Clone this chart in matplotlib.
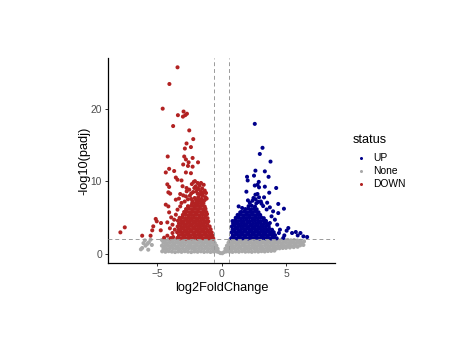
import matplotlib
matplotlib.use("Agg")
import matplotlib.pyplot as plt
from matplotlib.lines import Line2D

plt.rcParams['font.family'] = ['Liberation Sans', 'DejaVu Sans']

# ---------------- data ----------------
status_labels = ["UP", "None", "DOWN"]
status_colors = ["#00008B", "#A9A9A9", "#B22222"]

fc_cut = 0.585          # log2(1.5)
padj_cut = 2.0          # -log10(0.01)
x_ticks = [-5, 0, 5]
y_ticks = [0, 10, 20]

down_pts = [
    (-3.41, 25.7), (-4.04, 23.4), (-4.56, 20.0), (-2.94, 19.6), (-2.68, 19.3), (-3.38, 19.1),
    (-2.99, 18.9), (-2.81, 19.1), (-3.75, 17.6), (-2.5, 17.0), (-2.19, 15.8), (-2.71, 15.2),
    (-2.37, 14.7), (-2.84, 14.5), (-4.17, 13.4), (-2.89, 13.4), (-2.24, 13.2),
    (-2.76, 13.0), (-2.55, 12.6), (-1.82, 12.6), (-2.97, 12.3), (-2.6, 12.1), (-2.24, 12.0),
    (-4.06, 11.7), (-3.67, 11.4), (-4.32, 11.2), (-2.37, 11.1), (-2.76, 11.2), (-3.54, 10.5),
    (-3.41, 10.2), (-3.1, 10.1), (-2.06, 10.0), (-1.85, 9.75), (-1.59, 9.75), (-1.38, 9.5),
    (-4.2, 9.56), (-4.06, 9.2), (-3.02, 9.3), (-2.71, 9.06), (-2.5, 8.83), (-2.11, 9.06),
    (-1.77, 8.92), (-3.98, 8.28), (-4.12, 8.46), (-3.2, 8.23), (-2.97, 8.04), (-2.76, 7.9),
    (-1.85, 8.28), (-1.59, 8.14), (-1.2, 8.37), (-3.54, 7.45), (-2.34, 7.54), (-2.08, 7.68),
    (-4.32, 6.76), (-4.12, 6.52), (-3.2, 6.52), (-4.06, 5.7), (-5.1, 4.79), (-5.02, 4.46),
    (-4.69, 4.23), (-4.2, 4.32), (-5.29, 3.77), (-5.37, 3.22), (-4.71, 3.22), (-7.5, 3.63),
    (-7.84, 2.94), (-6.15, 2.48), (-5.5, 2.48), (-4.2, 2.48), (-3.8, 2.85), (-3.62, 3.31),
    (-3.8, 4.0), (-3.67, 4.69), (-3.54, 5.38), (-3.41, 6.07),
    (-2.3, 9.6), (-2.0, 9.3), (-1.7, 9.4), (-1.5, 9.0), (-1.3, 8.7), (-2.2, 8.5), (-1.95, 8.6),
    (-1.65, 8.2), (-1.45, 8.0), (-2.45, 8.0), (-1.25, 7.8), (-1.8, 7.8), (-2.6, 7.5),
    (-1.55, 7.55), (-2.0, 7.5), (-1.3, 7.4), (-2.85, 7.2), (-3.1, 7.0),
    (-2.15, 9.9), (-1.9, 9.0), (-1.6, 8.6), (-2.35, 8.3), (-1.4, 8.4), (-1.75, 7.4),
    (-2.25, 7.2), (-1.15, 7.6), (-2.7, 8.6), (-3.3, 7.6),
    (-4.45, 2.2), (-3.95, 2.15), (-4.0, 3.5), (-3.9, 5.0), (-3.75, 2.3),
    (-3.42, 2.18), (-3.2, 2.12), (-2.97, 2.22), (-2.76, 2.1), (-2.53, 2.2), (-2.31, 2.14),
    (-2.1, 2.24), (-1.87, 2.11), (-1.65, 2.19), (-1.43, 2.13), (-1.2, 2.23), (-0.98, 2.12),
    (-0.77, 2.2), (-0.64, 2.1),
    (-3.3, 2.55), (-3.08, 2.6), (-2.86, 2.5), (-2.64, 2.58), (-2.42, 2.52), (-2.2, 2.62),
    (-1.98, 2.5), (-1.76, 2.57), (-1.54, 2.53), (-1.32, 2.6), (-1.1, 2.49), (-0.88, 2.56),
    (-0.69, 2.48),
    (-3.44, 2.95), (-3.2, 3.0), (-2.98, 2.9), (-2.75, 2.98), (-2.53, 2.93), (-2.31, 3.02),
    (-2.09, 2.91), (-1.87, 2.99), (-1.65, 2.94), (-1.43, 3.0), (-1.21, 2.9), (-0.99, 2.97),
    (-0.76, 2.92),
    (-3.32, 3.35), (-3.1, 3.4), (-2.87, 3.3), (-2.64, 3.38), (-2.42, 3.32), (-2.2, 3.42),
    (-1.98, 3.31), (-1.76, 3.39), (-1.54, 3.34), (-1.32, 3.4), (-1.1, 3.3), (-0.84, 3.36),
    (-3.4, 3.75), (-3.18, 3.8), (-2.96, 3.7), (-2.74, 3.78), (-2.52, 3.72), (-2.3, 3.82),
    (-2.08, 3.71), (-1.86, 3.79), (-1.64, 3.74), (-1.42, 3.8), (-1.2, 3.7), (-0.92, 3.76),
    (-3.3, 4.15), (-3.08, 4.2), (-2.86, 4.1), (-2.64, 4.18), (-2.42, 4.12), (-2.2, 4.22),
    (-1.98, 4.11), (-1.76, 4.19), (-1.54, 4.14), (-1.32, 4.2), (-1.1, 4.1),
    (-3.38, 4.55), (-3.15, 4.6), (-2.93, 4.5), (-2.7, 4.58), (-2.5, 4.52), (-2.28, 4.62),
    (-2.05, 4.51), (-1.84, 4.59), (-1.62, 4.54), (-1.4, 4.6), (-1.18, 4.5), (-1.02, 4.45),
    (-3.25, 4.95), (-3.02, 5.0), (-2.8, 4.9), (-2.58, 4.98), (-2.36, 4.92), (-2.14, 5.02),
    (-1.92, 4.91), (-1.7, 4.99), (-1.48, 4.94), (-1.26, 5.0), (-1.08, 4.9),
    (-3.0, 5.35), (-2.78, 5.4), (-2.56, 5.3), (-2.34, 5.38), (-2.12, 5.32), (-1.9, 5.42),
    (-1.68, 5.31), (-1.46, 5.39), (-1.25, 5.34), (-1.12, 5.45),
    (-2.9, 5.75), (-2.68, 5.8), (-2.46, 5.7), (-2.24, 5.78), (-2.02, 5.72), (-1.8, 5.82),
    (-1.58, 5.71), (-1.36, 5.79), (-1.18, 5.74),
    (-2.75, 6.15), (-2.52, 6.2), (-2.3, 6.1), (-2.08, 6.18), (-1.86, 6.12), (-1.64, 6.22),
    (-1.42, 6.11), (-1.24, 6.19),
    (-2.6, 6.55), (-2.35, 6.6), (-2.14, 6.5), (-1.92, 6.58), (-1.7, 6.52), (-1.48, 6.62),
    (-1.3, 6.5),
    (-2.28, 6.92), (-2.05, 6.88), (-1.83, 6.95), (-1.6, 6.9), (-1.4, 6.97),
    (-1.95, 7.2), (-1.62, 7.25), (-1.42, 7.18),
]

up_pts = [
    (2.58, 17.9), (3.18, 14.6), (2.97, 13.75), (3.8, 12.7), (2.63, 11.45), (3.36, 11.35),
    (1.98, 10.6), (2.52, 10.76), (3.65, 10.6), (2.03, 10.1), (2.89, 9.9), (2.58, 9.4),
    (2.79, 9.5), (3.36, 9.24), (2.91, 9.15), (4.24, 9.06), (1.93, 8.55), (2.79, 8.23),
    (2.63, 8.14), (3.7, 8.41), (2.48, 7.68), (2.91, 7.77), (3.3, 7.77), (2.05, 7.35),
    (2.84, 7.13), (3.54, 7.03), (4.4, 6.86), (1.33, 6.52), (3.23, 6.57), (3.75, 6.39),
    (4.84, 6.2), (1.8, 5.84), (4.0, 5.84), (4.4, 5.6), (3.88, 5.15), (4.14, 4.69),
    (3.75, 4.23), (4.32, 4.0), (4.53, 3.31), (4.45, 2.85), (4.87, 2.52), (5.05, 3.17),
    (5.18, 3.54), (5.47, 2.85), (5.76, 2.99), (6.12, 2.85), (5.91, 2.52), (6.35, 2.39),
    (6.64, 2.3), (4.79, 2.16),
    (2.4, 7.3), (2.65, 7.5), (3.05, 7.2), (2.2, 7.0), (3.1, 6.9), (2.7, 6.95), (1.6, 6.3),
    (3.5, 6.1), (1.45, 5.7),
    (0.76, 2.15), (0.98, 2.2), (1.2, 2.1), (1.42, 2.18), (1.64, 2.12), (1.86, 2.22),
    (2.08, 2.11), (2.3, 2.19), (2.52, 2.14), (2.74, 2.2), (2.96, 2.1), (3.18, 2.17),
    (3.4, 2.13), (3.62, 2.21), (3.84, 2.1), (4.06, 2.18), (4.28, 2.12),
    (0.87, 2.55), (1.09, 2.6), (1.31, 2.5), (1.53, 2.58), (1.75, 2.52), (1.97, 2.62),
    (2.19, 2.51), (2.41, 2.59), (2.63, 2.54), (2.85, 2.6), (3.07, 2.5), (3.29, 2.57),
    (3.51, 2.53), (3.73, 2.61), (3.95, 2.5), (4.15, 2.56),
    (0.78, 2.95), (1.0, 3.0), (1.22, 2.9), (1.44, 2.98), (1.66, 2.92), (1.88, 3.02),
    (2.1, 2.91), (2.32, 2.99), (2.54, 2.94), (2.76, 3.0), (2.98, 2.9), (3.2, 2.97),
    (3.42, 2.93), (3.64, 3.01), (3.86, 2.9), (4.05, 2.96),
    (0.86, 3.35), (1.08, 3.4), (1.3, 3.3), (1.52, 3.38), (1.74, 3.32), (1.96, 3.42),
    (2.18, 3.31), (2.4, 3.39), (2.62, 3.34), (2.84, 3.4), (3.06, 3.3), (3.28, 3.37),
    (3.5, 3.33), (3.72, 3.41), (3.92, 3.3),
    (0.8, 3.75), (1.02, 3.8), (1.24, 3.7), (1.46, 3.78), (1.68, 3.72), (1.9, 3.82),
    (2.12, 3.71), (2.34, 3.79), (2.56, 3.74), (2.78, 3.8), (3.0, 3.7), (3.22, 3.77),
    (3.44, 3.73), (3.66, 3.8),
    (0.9, 4.15), (1.12, 4.2), (1.34, 4.1), (1.56, 4.18), (1.78, 4.12), (2.0, 4.22),
    (2.22, 4.11), (2.44, 4.19), (2.66, 4.14), (2.88, 4.2), (3.1, 4.1), (3.32, 4.17),
    (3.54, 4.13),
    (0.85, 4.5), (1.06, 4.6), (1.28, 4.5), (1.5, 4.58), (1.72, 4.52), (1.94, 4.62),
    (2.16, 4.51), (2.38, 4.59), (2.6, 4.54), (2.82, 4.6), (3.04, 4.5), (3.26, 4.57),
    (3.45, 4.52),
    (1.1, 4.95), (1.32, 5.0), (1.54, 4.9), (1.76, 4.98), (1.98, 4.92), (2.2, 5.02),
    (2.42, 4.91), (2.64, 4.99), (2.86, 4.94), (3.08, 5.0), (3.28, 4.9),
    (1.25, 5.35), (1.47, 5.4), (1.69, 5.3), (1.91, 5.38), (2.13, 5.32), (2.35, 5.42),
    (2.57, 5.31), (2.79, 5.39), (3.0, 5.34),
    (1.55, 5.75), (1.77, 5.8), (1.99, 5.7), (2.21, 5.78), (2.43, 5.72), (2.65, 5.82),
    (2.87, 5.71),
    (1.85, 6.15), (2.07, 6.2), (2.29, 6.1), (2.51, 6.18), (2.73, 6.12),
    (2.1, 6.55), (2.35, 6.6), (2.6, 6.5),
]

none_pts = [
    (-6.15, 0.78), (-5.89, 1.1), (-5.63, 1.56), (-5.94, 1.84), (-5.5, 1.93), (-5.68, 0.55),
    (-6.25, 0.6), (-5.75, 1.35), (-5.4, 1.2), (-6.05, 1.45),
    (-4.6, 0.32), (-4.35, 0.26), (-4.1, 0.34), (-3.85, 0.28), (-3.6, 0.22), (-3.35, 0.3),
    (-3.1, 0.25), (-2.85, 0.33), (-2.6, 0.27), (-2.35, 0.22), (-2.1, 0.3), (-1.85, 0.26),
    (-1.6, 0.32), (-1.35, 0.24), (-1.1, 0.29), (-0.85, 0.23), (-0.62, 0.3),
    (0.62, 0.28), (0.85, 0.24), (1.1, 0.31), (1.35, 0.26), (1.6, 0.33), (1.85, 0.27),
    (2.1, 0.3), (2.35, 0.25), (2.6, 0.32), (2.85, 0.28), (3.1, 0.34), (3.35, 0.3),
    (3.6, 0.36), (3.85, 0.38), (4.1, 0.42),
    (-4.5, 0.7), (-4.25, 0.66), (-4.0, 0.74), (-3.75, 0.68), (-3.5, 0.72), (-3.25, 0.65),
    (-3.0, 0.71), (-2.75, 0.67), (-2.5, 0.74), (-2.25, 0.69), (-2.0, 0.66), (-1.75, 0.72),
    (-1.5, 0.68), (-1.25, 0.73), (-1.0, 0.66), (-0.75, 0.7), (-0.52, 0.68),
    (0.52, 0.7), (0.76, 0.66), (1.0, 0.73), (1.25, 0.68), (1.5, 0.71), (1.75, 0.65),
    (2.0, 0.72), (2.25, 0.69), (2.5, 0.74), (2.75, 0.67), (3.0, 0.7), (3.25, 0.66),
    (3.5, 0.73), (3.75, 0.69), (4.0, 0.72), (4.25, 0.7), (4.5, 0.74), (4.75, 0.78),
    (5.0, 0.8), (5.3, 0.85),
    (-4.62, 1.1), (-4.38, 1.06), (-4.13, 1.13), (-3.88, 1.08), (-3.63, 1.12), (-3.38, 1.05),
    (-3.13, 1.1), (-2.88, 1.14), (-2.63, 1.07), (-2.38, 1.11), (-2.13, 1.05), (-1.88, 1.12),
    (-1.63, 1.08), (-1.38, 1.13), (-1.13, 1.06), (-0.88, 1.1), (-0.62, 1.07),
    (0.64, 1.1), (0.88, 1.06), (1.13, 1.12), (1.38, 1.07), (1.63, 1.11), (1.88, 1.05),
    (2.13, 1.1), (2.38, 1.13), (2.63, 1.07), (2.88, 1.1), (3.13, 1.05), (3.38, 1.12),
    (3.63, 1.08), (3.88, 1.11), (4.13, 1.06), (4.38, 1.1), (4.63, 1.13), (4.88, 1.08),
    (5.13, 1.12), (5.38, 1.07), (5.63, 1.1), (5.85, 1.05),
    (-4.5, 1.5), (-4.25, 1.46), (-4.0, 1.53), (-3.75, 1.48), (-3.5, 1.52), (-3.25, 1.45),
    (-3.0, 1.5), (-2.75, 1.54), (-2.5, 1.47), (-2.25, 1.51), (-2.0, 1.45), (-1.75, 1.52),
    (-1.5, 1.48), (-1.25, 1.53), (-1.0, 1.46), (-0.75, 1.5), (-0.52, 1.47),
    (0.54, 1.5), (0.76, 1.46), (1.0, 1.52), (1.25, 1.47), (1.5, 1.51), (1.75, 1.45),
    (2.0, 1.5), (2.25, 1.53), (2.5, 1.47), (2.75, 1.5), (3.0, 1.45), (3.25, 1.52),
    (3.5, 1.48), (3.75, 1.51), (4.0, 1.46), (4.25, 1.5), (4.5, 1.53), (4.75, 1.48),
    (5.0, 1.52), (5.25, 1.47), (5.5, 1.5), (5.75, 1.45), (6.0, 1.5), (6.25, 1.42),
    (-4.62, 1.88), (-4.38, 1.84), (-4.13, 1.9), (-3.88, 1.86), (-3.63, 1.9), (-3.38, 1.83),
    (-3.13, 1.88), (-2.88, 1.91), (-2.63, 1.85), (-2.38, 1.89), (-2.13, 1.83), (-1.88, 1.9),
    (-1.63, 1.86), (-1.38, 1.91), (-1.13, 1.84), (-0.88, 1.88), (-0.62, 1.85),
    (0.62, 1.88), (0.86, 1.84), (1.13, 1.9), (1.38, 1.85), (1.63, 1.89), (1.88, 1.83),
    (2.13, 1.88), (2.38, 1.91), (2.63, 1.85), (2.88, 1.88), (3.13, 1.83), (3.38, 1.9),
    (3.63, 1.86), (3.88, 1.89), (4.13, 1.84), (4.38, 1.88), (4.63, 1.91), (4.88, 1.85),
    (5.13, 1.9), (5.38, 1.84), (5.63, 1.88), (5.88, 1.82), (6.13, 1.78), (6.4, 1.7),
    (5.6, 0.9), (5.9, 0.95), (6.1, 1.15), (6.35, 1.2),
    (-0.38, 0.3), (-0.22, 0.22), (-0.08, 0.08), (0.06, 0.06), (0.2, 0.22), (0.38, 0.3),
    (-0.3, 0.68), (0.3, 0.68), (-0.4, 1.1), (0.42, 1.1),
]

# ---------------- figure ----------------
W, H = 477, 357
fig = plt.figure(figsize=(W / 100, H / 100), dpi=100)
fig.patch.set_facecolor("white")
ax = fig.add_axes([108 / W, 1 - 263 / H, 227 / W, 205 / H])

groups = {"UP": up_pts, "None": none_pts, "DOWN": down_pts}
order = ["None", "DOWN", "UP"]
for name in order:
    pts = groups[name]
    xs = [p[0] for p in pts]
    ys = [p[1] for p in pts]
    col = status_colors[status_labels.index(name)]
    ax.scatter(xs, ys, s=8.5, c=col, edgecolors="none", zorder=2)

dash_col = "#9a9a9a"
for v in (-fc_cut, fc_cut):
    ax.axvline(v, color=dash_col, lw=0.7, ls=(0, (4, 3)), zorder=3)
ax.axhline(padj_cut, color=dash_col, lw=0.7, ls=(0, (4, 3)), zorder=3)

ax.set_xlim(-8.8, 8.8)
ax.set_ylim(-1.285, 26.985)
ax.set_xticks(x_ticks)
ax.set_xticklabels(["\u22125" if t < 0 else str(t) for t in x_ticks])
ax.set_yticks(y_ticks)
for s in ("top", "right"):
    ax.spines[s].set_visible(False)
for s in ("left", "bottom"):
    ax.spines[s].set_linewidth(0.9)
    ax.spines[s].set_color("black")
ax.tick_params(axis="both", length=2.4, width=0.7, color="#333333",
               labelsize=7.4, labelcolor="#4D4D4D", pad=2)

fig.text(221.5 / W, 1 - 288 / H, "log2FoldChange", ha="center", va="center",
         fontsize=9.2, color="black")
fig.text(84 / W, 1 - 161 / H, "-log10(padj)", ha="center", va="center",
         rotation=90, fontsize=9.2, color="black")

# legend
fig.text(353 / W, 1 - 140 / H, "status", ha="left", va="center", fontsize=9.2)
leg_y = [158, 171, 184]
for lab, col, yy in zip(status_labels, status_colors, leg_y):
    fig.add_artist(Line2D([361 / W], [1 - yy / H], marker="o", ms=2.2, color=col,
                          mec="none", ls="none", transform=fig.transFigure))
    fig.text(373 / W, 1 - yy / H, lab, ha="left", va="center", fontsize=7.4)

fig.savefig("out.png", dpi=100)
